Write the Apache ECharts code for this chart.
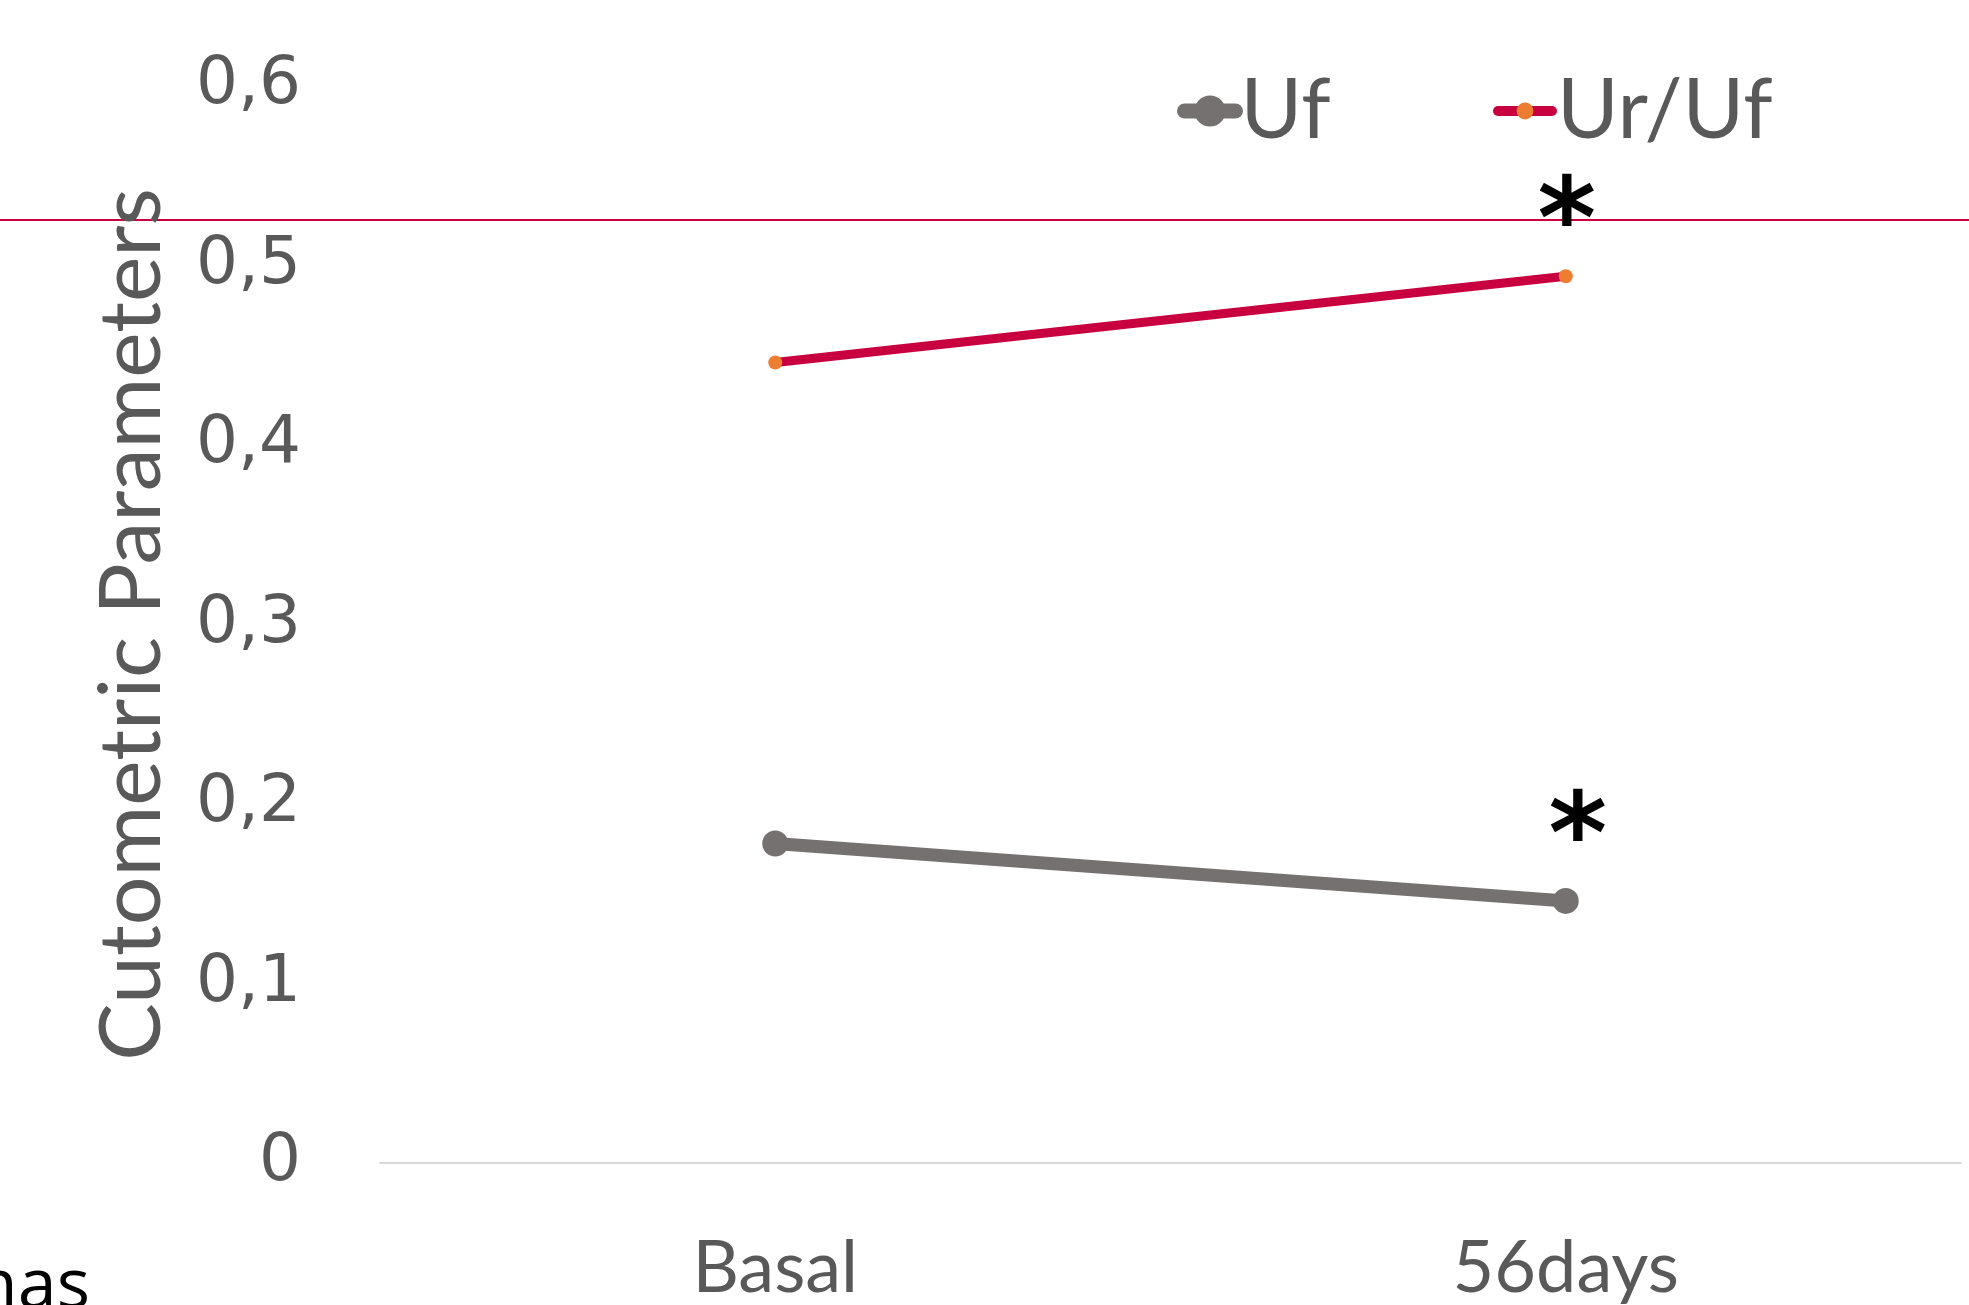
<!DOCTYPE html>
<html><head><meta charset="utf-8">
<script src="https://cdn.jsdelivr.net/npm/echarts@6/dist/echarts.min.js"></script>
<style>html,body{margin:0;padding:0;background:#fff}#c{width:1969px;height:1305px}</style>
</head><body><div id="c"></div>
<script>
const categories = ['Basal', '56days'];
const ufValues = [0.178, 0.146];
const urUfValues = [0.446, 0.494];
const ufSignificance = ['', '*'];
const urUfSignificance = ['', '*'];
const yTickLabels = ['0', '0,1', '0,2', '0,3', '0,4', '0,5', '0,6'];

const chart = echarts.init(document.getElementById('c'));

function withStars(values, marks, offset) {
  return values.map((v, i) => marks[i] ? {
    value: v,
    label: {
      show: true, formatter: marks[i], position: 'inside', offset: offset,
      fontFamily: 'DejaVu Sans', fontWeight: 'bold', fontSize: 112, color: '#000'
    }
  } : v);
}

chart.setOption({
  animation: false,
  backgroundColor: '#ffffff',
  grid: { left: 380, right: 8, top: 86, bottom: 137, containLabel: false },
  legend: [
    {
      data: ['Uf'], left: 1172, top: 64, itemWidth: 51, itemHeight: 39,
      lineStyle: { width: 15, cap: 'round' },
      textStyle: { fontFamily: 'Lato', fontSize: 84, color: '#595959' }
    },
    {
      data: ['Ur/Uf'], left: 1488, top: 64, itemWidth: 54, itemHeight: 21,
      lineStyle: { width: 10, cap: 'round' },
      textStyle: { fontFamily: 'Lato', fontSize: 84, color: '#595959' }
    }
  ],
  xAxis: {
    type: 'category', data: categories, boundaryGap: true,
    axisLine: { lineStyle: { color: '#D9D9D9', width: 2 } },
    axisTick: { show: false },
    axisLabel: { fontFamily: 'Lato', fontSize: 72, color: '#595959', margin: 70 }
  },
  yAxis: {
    type: 'value', min: 0, max: 0.6, interval: 0.1,
    name: 'Cutometric Parameters', nameLocation: 'middle', nameGap: 205, nameRotate: 90,
    nameTextStyle: { fontFamily: 'Lato', fontSize: 86, color: '#595959' },
    axisLine: { show: false }, axisTick: { show: false }, splitLine: { show: false },
    axisLabel: {
      fontFamily: 'DejaVu Sans', fontSize: 66, color: '#595959', margin: 79,
      formatter: (v) => yTickLabels[Math.round(v * 10)]
    }
  },
  series: [
    {
      name: 'Uf', type: 'line', data: withStars(ufValues, ufSignificance, [12, -58]),
      symbol: 'circle', symbolSize: 26,
      lineStyle: { color: '#767171', width: 13 },
      itemStyle: { color: '#767171' }
    },
    {
      name: 'Ur/Uf', type: 'line', data: withStars(urUfValues, urUfSignificance, [1, -48]),
      symbol: 'circle', symbolSize: 14,
      lineStyle: { color: '#C8003F', width: 9 },
      itemStyle: { color: '#ED7D31' }
    }
  ],
  graphic: [
    { type: 'line', shape: { x1: 0, y1: 220, x2: 1969, y2: 220 }, style: { stroke: '#C8003F', lineWidth: 2 }, z: 0 },
    { type: 'text', style: { text: 'nas', x: 90, y: 1288, align: 'right', verticalAlign: 'middle', font: '70px "Open Sans"', fill: '#000' } }
  ]
});
</script>
</body></html>
